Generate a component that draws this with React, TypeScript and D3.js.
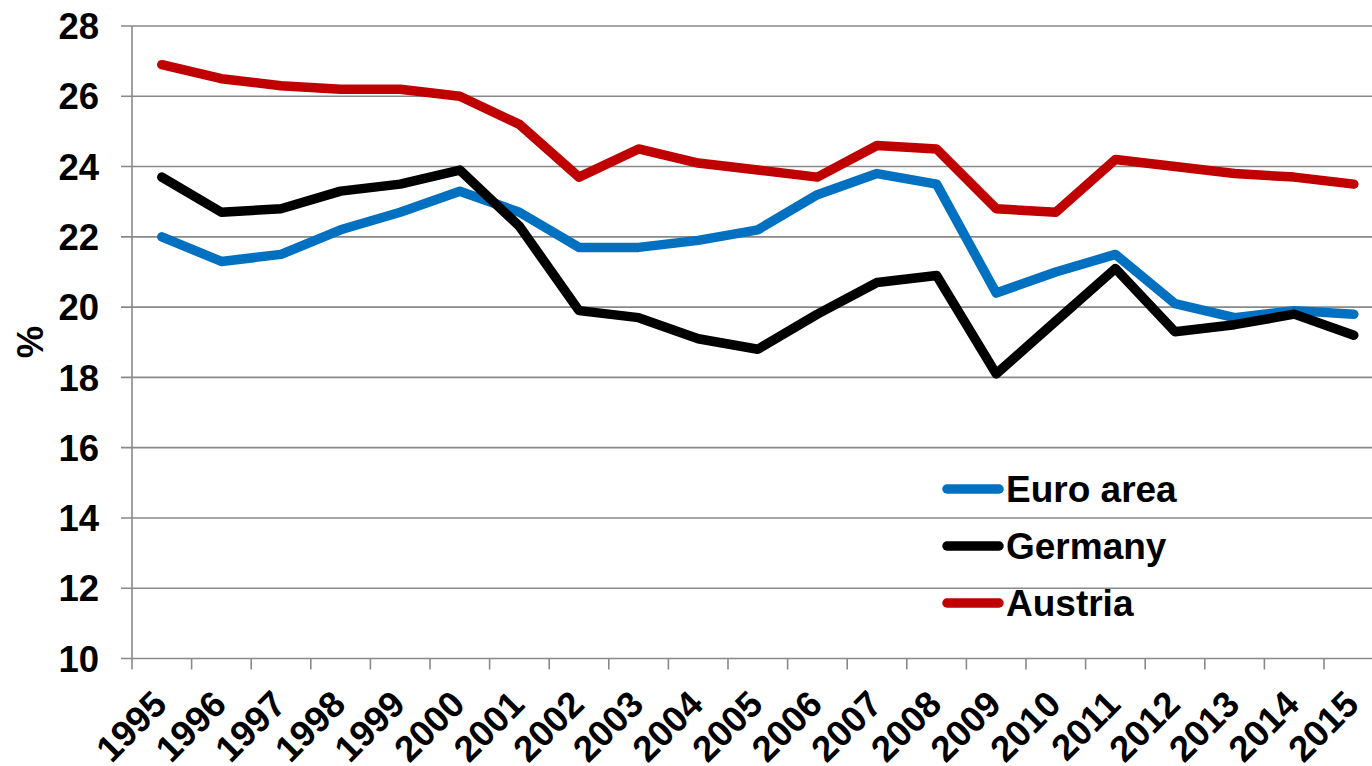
import React, { useEffect, useRef } from 'react';
import * as d3 from 'd3';

// Años y series (% del PIB)
const years = ['1995', '1996', '1997', '1998', '1999', '2000', '2001', '2002', '2003', '2004', '2005',
  '2006', '2007', '2008', '2009', '2010', '2011', '2012', '2013', '2014', '2015'];
const euroArea = [22.0, 21.3, 21.5, 22.2, 22.7, 23.3, 22.7, 21.7, 21.7, 21.9, 22.2,
  23.2, 23.8, 23.5, 20.4, 21.0, 21.5, 20.1, 19.7, 19.9, 19.8];
const germany = [23.7, 22.7, 22.8, 23.3, 23.5, 23.9, 22.3, 19.9, 19.7, 19.1, 18.8,
  19.8, 20.7, 20.9, 18.1, 19.6, 21.1, 19.3, 19.5, 19.8, 19.2];
const austria = [26.9, 26.5, 26.3, 26.2, 26.2, 26.0, 25.2, 23.7, 24.5, 24.1, 23.9,
  23.7, 24.6, 24.5, 22.8, 22.7, 24.2, 24.0, 23.8, 23.7, 23.5];
const yTicks = [10, 12, 14, 16, 18, 20, 22, 24, 26, 28];
const seriesNames = ['Euro area', 'Germany', 'Austria'];
const seriesColors = ['#0070C0', '#000000', '#C00000'];

const App: React.FC = () => {
  const chartRef = useRef<SVGSVGElement | null>(null);

  useEffect(() => {
    if (!chartRef.current) return;
    const svg = d3.select(chartRef.current);
    svg.selectAll('*').remove();

    const width = 1372;
    const height = 766;
    const left = 132;
    const right = 1383.6; // el área de trazado se sale un poco de la imagen
    const top = 26;
    const bottom = 658.5;
    const font = 'Liberation Sans, Arial, sans-serif';
    const fontSize = 36.5;
    const grid = '#898989';

    const x = d3.scaleBand<string>().domain(years).range([left, right]).paddingInner(0).paddingOuter(0);
    const y = d3.scaleLinear().domain([10, 28]).range([bottom, top]);
    const cx = (i: number) => x(years[i])! + x.bandwidth() / 2;

    svg.append('rect').attr('width', width).attr('height', height).attr('fill', '#fff');

    // Rejilla horizontal y marcas del eje Y
    svg.append('g')
      .selectAll('line')
      .data(yTicks)
      .enter()
      .append('line')
      .attr('x1', left - 11)
      .attr('x2', right)
      .attr('y1', (d) => y(d))
      .attr('y2', (d) => y(d))
      .attr('stroke', grid)
      .attr('stroke-width', 1.6);

    // Eje Y
    svg.append('line')
      .attr('x1', left).attr('x2', left)
      .attr('y1', top).attr('y2', bottom)
      .attr('stroke', grid).attr('stroke-width', 1.6);

    svg.append('g')
      .selectAll('text')
      .data(yTicks)
      .enter()
      .append('text')
      .attr('x', 99)
      .attr('y', (d) => y(d))
      .attr('dy', '0.36em')
      .attr('text-anchor', 'end')
      .attr('font-family', font)
      .attr('font-weight', 'bold')
      .attr('font-size', fontSize)
      .text((d) => d);

    svg.append('text')
      .attr('transform', 'translate(43,342) rotate(-90)')
      .attr('text-anchor', 'middle')
      .attr('font-family', font)
      .attr('font-weight', 'bold')
      .attr('font-size', fontSize)
      .text('%');

    // Marcas del eje X (en los límites de cada categoría)
    const bounds = years.map((yr) => x(yr)!).concat([right]);
    svg.append('g')
      .selectAll('line')
      .data(bounds)
      .enter()
      .append('line')
      .attr('x1', (d) => d)
      .attr('x2', (d) => d)
      .attr('y1', bottom)
      .attr('y2', bottom + 11)
      .attr('stroke', grid)
      .attr('stroke-width', 1.6);

    svg.append('g')
      .selectAll('text')
      .data(years)
      .enter()
      .append('text')
      .attr('transform', (_, i) => `translate(${cx(i) + 7},${bottom + 48}) rotate(-45)`)
      .attr('text-anchor', 'end')
      .attr('font-family', font)
      .attr('font-weight', 'bold')
      .attr('font-size', fontSize)
      .text((d) => d);

    // Líneas
    const line = d3.line<number>()
      .x((_, i) => cx(i))
      .y((d) => y(d));

    [euroArea, germany, austria].forEach((values, k) => {
      svg.append('path')
        .datum(values)
        .attr('fill', 'none')
        .attr('stroke', seriesColors[k])
        .attr('stroke-width', 9.5)
        .attr('stroke-linejoin', 'round')
        .attr('stroke-linecap', 'round')
        .attr('d', line);
    });

    // Leyenda
    const legend = svg.append('g').attr('transform', 'translate(943,489)');
    seriesNames.forEach((name, k) => {
      const g = legend.append('g').attr('transform', `translate(0,${k * 57})`);
      g.append('line')
        .attr('x1', 4).attr('x2', 56)
        .attr('stroke', seriesColors[k])
        .attr('stroke-width', 9.5)
        .attr('stroke-linecap', 'round');
      g.append('text')
        .attr('x', 63)
        .attr('y', 13)
        .attr('font-family', font)
        .attr('font-weight', 'bold')
        .attr('font-size', 37)
        .text(name);
    });
  }, []);

  return (
    <svg
      ref={chartRef}
      width={1372}
      height={766}
      style={{ position: 'absolute', left: 0, top: 0, overflow: 'hidden' }}
    />
  );
};

export default App;
